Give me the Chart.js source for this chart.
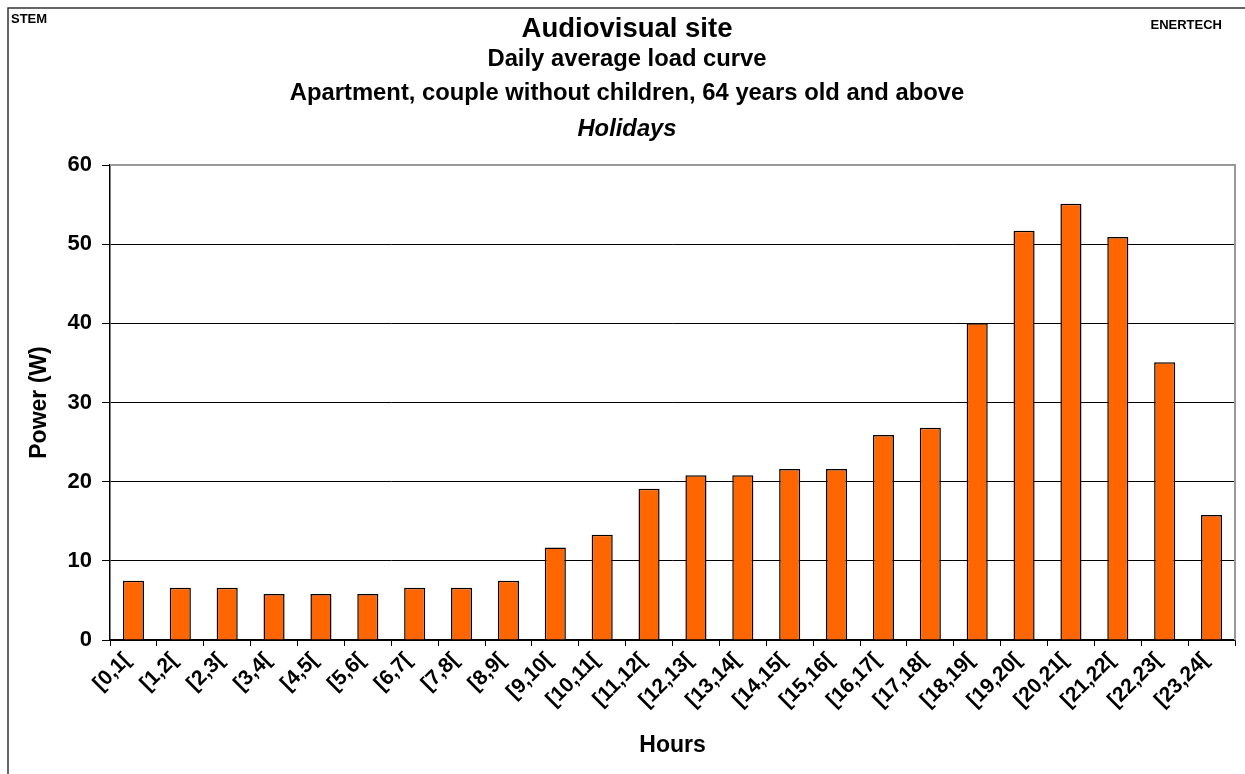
<!DOCTYPE html>
<html>
<head>
    <title>Audiovisual site - Daily average load curve</title>
    <script src="https://cdn.jsdelivr.net/npm/chart.js"></script>
    <style>
        html, body { margin: 0; padding: 0; background: #fff; }
        #wrap { width: 1245px; height: 774px; position: relative; }
    </style>
</head>
<body>
    <div id="wrap">
        <canvas id="loadChart"></canvas>
    </div>

    <script>
        // hour slots of the day
        const hours = ['[0,1[', '[1,2[', '[2,3[', '[3,4[', '[4,5[', '[5,6[', '[6,7[', '[7,8[',
            '[8,9[', '[9,10[', '[10,11[', '[11,12[', '[12,13[', '[13,14[', '[14,15[', '[15,16[',
            '[16,17[', '[17,18[', '[18,19[', '[19,20[', '[20,21[', '[21,22[', '[22,23[', '[23,24['];

        // average power per hour (W)
        const power = [7.5, 6.6, 6.6, 5.8, 5.8, 5.8, 6.6, 6.6, 7.5, 11.7, 13.3, 19.1,
            20.8, 20.8, 21.6, 21.6, 25.9, 26.8, 40.0, 51.7, 55.1, 50.9, 35.1, 15.8];

        const yTicks = [0, 10, 20, 30, 40, 50, 60];

        const titleLines = [
            { text: 'Audiovisual site', font: 'bold 27.5px "Liberation Sans"', y: 29.5 },
            { text: 'Daily average load curve', font: 'bold 23.8px "Liberation Sans"', y: 59 },
            { text: 'Apartment, couple without children, 64 years old and above', font: 'bold 23.8px "Liberation Sans"', y: 93 },
            { text: 'Holidays', font: 'italic bold 23.8px "Liberation Sans"', y: 129 }
        ];

        // frame, header texts and plot border
        const decorations = {
            id: 'decorations',
            afterDraw(chart) {
                const ctx = chart.ctx;
                const area = chart.chartArea;
                ctx.save();

                ctx.strokeStyle = '#333';
                ctx.lineWidth = 1.5;
                ctx.beginPath();
                ctx.moveTo(8, 774);
                ctx.lineTo(8, 8);
                ctx.lineTo(1245, 8);
                ctx.stroke();

                ctx.fillStyle = '#000';
                ctx.textBaseline = 'middle';
                ctx.font = 'bold 13px "Liberation Sans"';
                ctx.textAlign = 'left';
                ctx.fillText('STEM', 11, 19);
                ctx.textAlign = 'right';
                ctx.fillText('ENERTECH', 1222, 25);

                ctx.textAlign = 'center';
                titleLines.forEach(line => {
                    ctx.font = line.font;
                    ctx.fillText(line.text, 627, line.y);
                });

                // plot area border, top and right
                ctx.strokeStyle = '#999';
                ctx.lineWidth = 2;
                ctx.beginPath();
                ctx.moveTo(area.left, area.top);
                ctx.lineTo(area.right, area.top);
                ctx.lineTo(area.right, area.bottom);
                ctx.stroke();
                ctx.restore();
            }
        };

        const ctx = document.getElementById('loadChart').getContext('2d');
        new Chart(ctx, {
            type: 'bar',
            data: {
                labels: hours,
                datasets: [{
                    label: 'Power (W)',
                    data: power,
                    backgroundColor: '#FF6600',
                    borderColor: '#000',
                    borderWidth: 1.5,
                    barPercentage: 0.45,
                    categoryPercentage: 1.0
                }]
            },
            options: {
                responsive: true,
                maintainAspectRatio: false,
                animation: false,
                layout: { padding: { left: 0, right: 10, top: 165, bottom: 0 } },
                plugins: {
                    legend: { display: false },
                    title: { display: false },
                    tooltip: { enabled: false }
                },
                scales: {
                    x: {
                        offset: true,
                        afterFit(scale) { scale.height = 134; },
                        grid: {
                            offset: true,
                            drawOnChartArea: false,
                            color: '#000',
                            tickLength: 6
                        },
                        border: { color: '#000', width: 1.5 },
                        ticks: {
                            color: '#000',
                            maxRotation: 45,
                            minRotation: 45,
                            autoSkip: false,
                            padding: 2,
                            labelOffset: -6,
                            font: { family: 'Liberation Sans', size: 21, weight: 'bold' }
                        },
                        title: {
                            display: true,
                            text: 'Hours',
                            color: '#000',
                            padding: { top: 4, bottom: 15 },
                            font: { family: 'Liberation Sans', size: 23, weight: 'bold' }
                        }
                    },
                    y: {
                        min: 0,
                        max: 60,
                        afterFit(scale) { scale.width = 110; },
                        afterBuildTicks(scale) {
                            scale.ticks = yTicks.map(v => ({ value: v }));
                        },
                        grid: {
                            color: ctx => ctx.tick && ctx.tick.value === 60 ? '#999' : '#000',
                            tickColor: '#000',
                            tickLength: 8
                        },
                        border: { color: '#000', width: 1.5 },
                        ticks: {
                            color: '#000',
                            padding: 10,
                            font: { family: 'Liberation Sans', size: 22, weight: 'bold' }
                        },
                        title: {
                            display: true,
                            text: 'Power (W)',
                            color: '#000',
                            padding: { top: 26, bottom: 4 },
                            font: { family: 'Liberation Sans', size: 23, weight: 'bold' }
                        }
                    }
                }
            },
            plugins: [decorations]
        });
    </script>
</body>
</html>
